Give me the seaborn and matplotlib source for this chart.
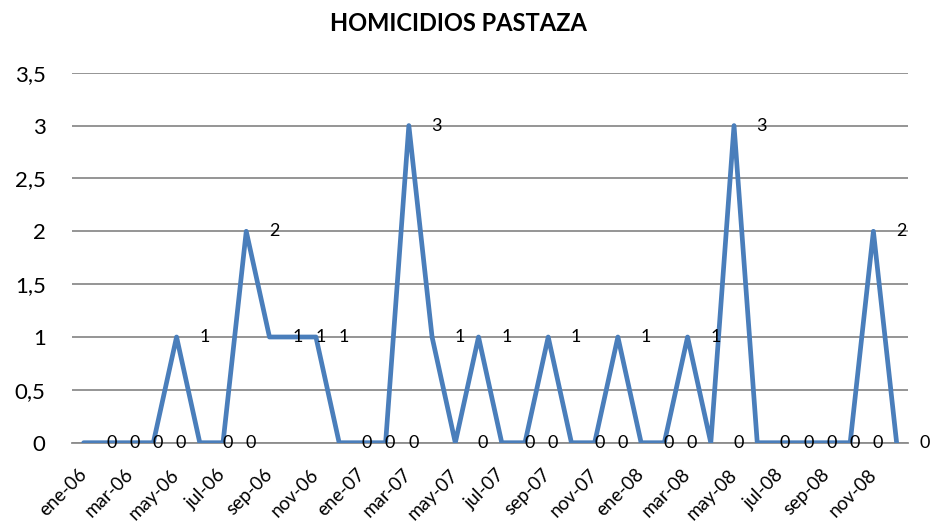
import matplotlib
matplotlib.use("Agg")
import matplotlib.pyplot as plt
import seaborn as sns
import pandas as pd

# Monthly homicide counts, Pastaza province, Jan 2006 - Dec 2008
meses = ["ene", "feb", "mar", "abr", "may", "jun",
         "jul", "ago", "sep", "oct", "nov", "dic"]
anios = ["06", "07", "08"]
periodos = [f"{m}-{a}" for a in anios for m in meses]

homicidios = [0, 0, 0, 0, 1, 0, 0, 2, 1, 1, 1, 0,
              0, 0, 3, 1, 0, 1, 0, 0, 1, 0, 0, 1,
              0, 0, 1, 0, 3, 0, 0, 0, 0, 0, 2, 0]

titulo = "HOMICIDIOS PASTAZA"
y_ticks = [0, 0.5, 1, 1.5, 2, 2.5, 3, 3.5]

df = pd.DataFrame({"periodo": periodos,
                   "pos": range(len(periodos)),
                   "homicidios": homicidios})

sns.set_theme(style="white")
plt.rcParams["font.family"] = ["Lato", "DejaVu Sans"]

fig = plt.figure(figsize=(9.32, 5.23), dpi=100)
ax = fig.add_axes([0.0773, 0.1535, 0.9745 - 0.0773, 0.861 - 0.1535])

line_color = "#4A7EBB"
sns.lineplot(data=df, x="pos", y="homicidios", ax=ax, color=line_color,
             linewidth=3.4, solid_joinstyle="round", solid_capstyle="round",
             zorder=3)

ax.set_xlim(-0.5, len(periodos) - 0.5)
ax.set_ylim(0, 3.5)

ax.set_yticks(y_ticks)
ax.set_yticklabels([f"{v:g}".replace(".", ",") for v in y_ticks],
                   fontsize=16, color="#000000")
ax.yaxis.grid(True, color="#8C8C8C", linewidth=1.3)
ax.set_axisbelow(True)

xt = list(range(0, len(periodos), 2))
ax.set_xticks(xt)
ax.set_xticklabels([periodos[i] for i in xt], rotation=45, ha="right",
                   va="center", rotation_mode="anchor", fontsize=13.5,
                   color="#000000")
ax.tick_params(axis="x", length=0, pad=21)
ax.tick_params(axis="y", length=0, pad=19)

for s in ["left", "right", "top"]:
    ax.spines[s].set_visible(False)
ax.spines["bottom"].set_color("#8C8C8C")
ax.spines["bottom"].set_linewidth(1.3)

ax.set_xlabel("")
ax.set_ylabel("")

# value labels to the right of each point
for i, v in enumerate(homicidios):
    ax.annotate(f"{v}", xy=(i, v), xytext=(20, 0), textcoords="offset points",
                ha="center", va="center", fontsize=13, color="#000000",
                annotation_clip=False, zorder=4)

fig.text(0.492, 0.956, titulo, ha="center", va="center",
         fontsize=17, fontweight="bold", color="#000000")

fig.savefig("out.png", dpi=100, facecolor="white")
